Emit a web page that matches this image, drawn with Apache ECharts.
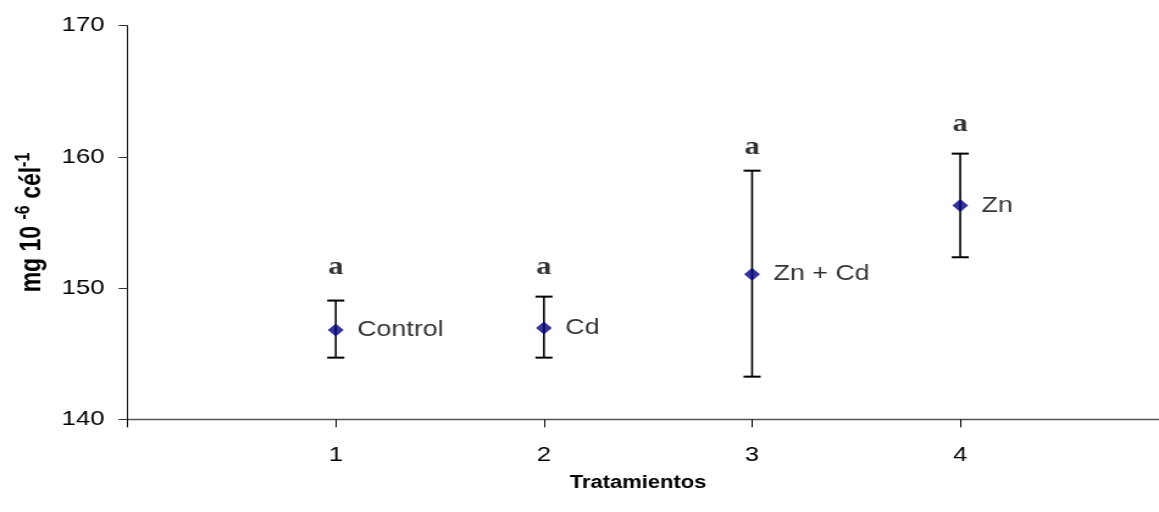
<!DOCTYPE html>
<html>
<head>
<meta charset="utf-8">
<script src="https://cdn.jsdelivr.net/npm/echarts@6/dist/echarts.min.js"></script>
<style>
  html, body { margin: 0; padding: 0; background: #fff; overflow: hidden; }
  #wrap { width: 1159px; height: 512px; overflow: hidden; }
  /* chart is drawn narrower and widened horizontally */
  #chart { width: 950px; height: 512px; transform: scaleX(1.22); transform-origin: 0 0; }
</style>
</head>
<body>
<div id="wrap"><div id="chart"></div></div>
<script>
// Treatments (x position) and their names
const treatments = [1, 2, 3, 4];
const treatmentNames = ['Control', 'Cd', 'Zn + Cd', 'Zn'];
// Mean value per treatment (mg 10^-6 cél^-1)
const means = [146.8, 146.95, 151.05, 156.3];
// Error bar limits
const lowerLimits = [144.7, 144.7, 143.25, 152.35];
const upperLimits = [149.05, 149.35, 158.95, 160.25];
// Significance letters and their heights
const letters = ['a', 'a', 'a', 'a'];
const letterY = [151.55, 151.55, 160.7, 162.5];
// Axis tick labels
const xTickLabels = ['1', '2', '3', '4'];
const yTicks = [140, 150, 160, 170];

const chart = echarts.init(document.getElementById('chart'), null, { renderer: 'canvas' });

const font = 'Liberation Sans, Arial, sans-serif';

const option = {
  animation: false,
  backgroundColor: '#fff',
  grid: { left: 104.6, right: 0, top: 25.7, bottom: 92.7, containLabel: false },
  xAxis: {
    type: 'value',
    min: 0,
    max: 4.955,
    interval: 1,
    splitLine: { show: false },
    axisLine: { onZero: false, lineStyle: { color: '#555', width: 1.3 } },
    axisTick: { show: true, length: 8, lineStyle: { color: '#000', width: 1 } },
    axisLabel: {
      margin: 25,
      fontFamily: font,
      fontSize: 21,
      color: '#000',
      showMaxLabel: false,
      formatter: v => {
        const i = treatments.indexOf(v);
        return i >= 0 ? xTickLabels[i] : '';
      }
    }
  },
  yAxis: {
    type: 'value',
    min: yTicks[0],
    max: yTicks[yTicks.length - 1],
    interval: 10,
    splitLine: { show: false },
    axisLine: { show: true, lineStyle: { color: '#000', width: 0.9 } },
    axisTick: { show: true, length: 7.4, lineStyle: { color: '#333', width: 1 } },
    axisLabel: { margin: 19, fontFamily: font, fontSize: 21, color: '#000' }
  },
  title: [
    {
      text: 'Tratamientos',
      left: 632 / 1.22,
      top: 469,
      textAlign: 'center',
      textStyle: { fontFamily: font, fontSize: 18, fontWeight: 'bold', color: '#000' }
    }
  ],
  graphic: [
    {
      type: 'text',
      x: 25,
      y: 222.5,
      rotation: Math.PI / 2,
      style: {
        text: '{b|mg 10 }{s|-6}{b| cél}{s|-1}',
        rich: {
          b: { fontFamily: font, fontSize: 23, fontWeight: 'bold', fill: '#000', verticalAlign: 'bottom', lineHeight: 26 },
          s: { fontFamily: font, fontSize: 16, fontWeight: 'bold', fill: '#000', verticalAlign: 'top', lineHeight: 26, padding: [0, 0, 9, 0] }
        },
        align: 'center',
        verticalAlign: 'middle'
      }
    }
  ],
  series: [
    {
      // error bars
      type: 'custom',
      z: 2,
      data: treatments.map((x, i) => [x, lowerLimits[i], upperLimits[i]]),
      renderItem: (params, api) => {
        const x = api.value(0);
        const lo = api.coord([x, api.value(1)]);
        const hi = api.coord([x, api.value(2)]);
        const half = 7;
        const style = { stroke: '#000', lineWidth: 1.6 };
        const capStyle = { stroke: '#000', lineWidth: 2 };
        return {
          type: 'group',
          children: [
            { type: 'line', shape: { x1: lo[0], y1: lo[1], x2: hi[0], y2: hi[1] }, style },
            { type: 'line', shape: { x1: lo[0] - half, y1: lo[1], x2: lo[0] + half, y2: lo[1] }, style: capStyle },
            { type: 'line', shape: { x1: hi[0] - half, y1: hi[1], x2: hi[0] + half, y2: hi[1] }, style: capStyle }
          ]
        };
      }
    },
    {
      // treatment means
      type: 'scatter',
      z: 3,
      symbol: 'diamond',
      symbolSize: [13, 13],
      itemStyle: { color: '#000080' },
      data: treatments.map((x, i) => ({ value: [x, means[i]], name: treatmentNames[i] })),
      label: {
        show: true,
        position: 'right',
        distance: 11,
        formatter: p => p.name,
        fontFamily: font,
        fontSize: 22,
        color: '#000'
      }
    },
    {
      // significance letters
      type: 'scatter',
      z: 3,
      symbol: 'circle',
      symbolSize: 1,
      itemStyle: { color: 'rgba(0,0,0,0)' },
      data: treatments.map((x, i) => ({ value: [x, letterY[i]], name: letters[i] })),
      label: {
        show: true,
        position: 'inside',
        formatter: p => p.name,
        fontFamily: 'Liberation Serif, Times New Roman, serif',
        fontWeight: 'bold',
        fontSize: 25,
        color: '#000'
      }
    }
  ]
};

chart.setOption(option);
</script>
</body>
</html>
